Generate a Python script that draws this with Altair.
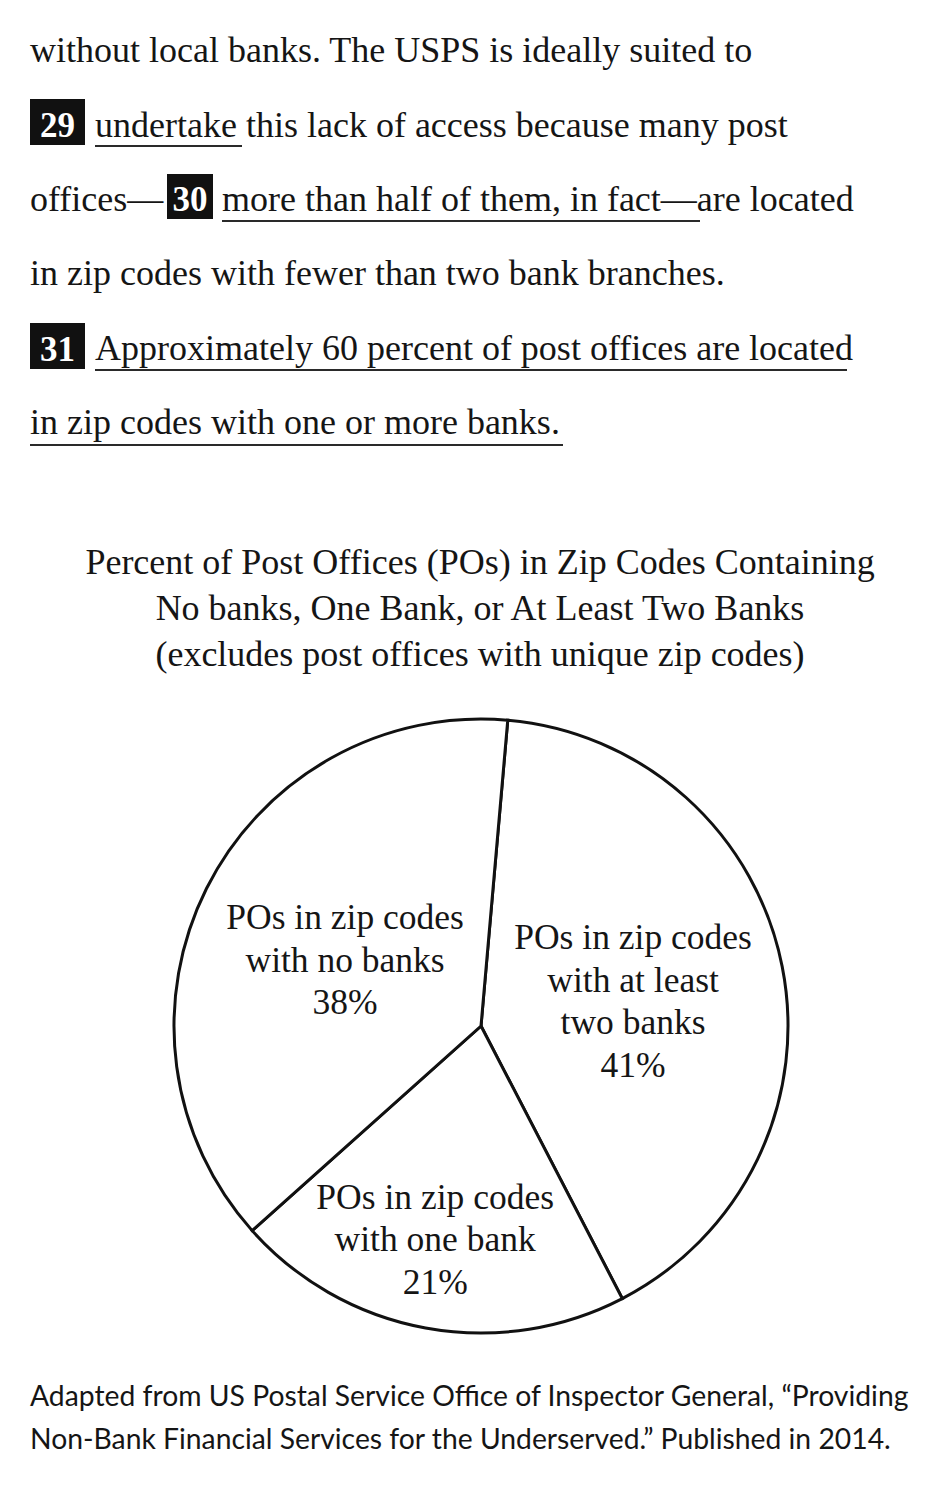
import math
import altair as alt
import pandas as pd

# ---------------- data ----------------
categories = [
    "with at least two banks",
    "with one bank",
    "with no banks",
]
percents = [41, 21, 38]
label_text = [
    "POs in zip codes\nwith at least\ntwo banks\n41%",
    "POs in zip codes\nwith one bank\n21%",
    "POs in zip codes\nwith no banks\n38%",
]
slice_order = [0, 1, 2]

title_lines = [
    "Percent of Post Offices (POs) in Zip Codes Containing",
    "No banks, One Bank, or At Least Two Banks",
    "(excludes post offices with unique zip codes)",
]
source_lines = [
    "Adapted from US Postal Service Office of Inspector General, \u201cProviding",
    "Non-Bank Financial Services for the Underserved.\u201d Published in 2014.",
]
passage = [
    "without local banks. The USPS is ideally suited to",
    "undertake this lack of access because many post",
    "offices\u2014",
    "more than half of them, in fact\u2014are located",
    "in zip codes with fewer than two bank branches.",
    "Approximately 60 percent of post offices are located",
    "in zip codes with one or more banks.",
]
question_numbers = ["29", "30", "31"]

# ---------------- styling ----------------
SERIF = "Liberation Serif"
SANS = "Lato"
INK = "#151515"
FS = 36

one = pd.DataFrame({"k": [0]})


def text_at(s, x, y, size=FS, font=SERIF, align="left", color=INK, weight="normal"):
    return alt.Chart(one).mark_text(
        text=s, font=font, fontSize=size, align=align, baseline="alphabetic",
        color=color, fontWeight=weight,
    ).encode(x=alt.value(x), y=alt.value(y))


def box(x1, x2, y1, y2):
    return alt.Chart(one).mark_rect(color="#111111").encode(
        x=alt.value(x1), x2=alt.value(x2), y=alt.value(y1), y2=alt.value(y2))


def underline(x1, x2, y):
    return alt.Chart(one).mark_rule(color="#2a2a2a", strokeWidth=2).encode(
        x=alt.value(x1), x2=alt.value(x2), y=alt.value(y))


layers = []
# passage lines
layers += [
    text_at(passage[0], 30, 62),
    box(30, 85, 99, 145),
    text_at(question_numbers[0], 57.5, 137, size=35, color="white", weight="bold", align="center"),
    text_at(passage[1], 95, 137),
    underline(95, 242, 146),
    text_at(passage[2], 30, 211),
    box(167, 213, 174, 219),
    text_at(question_numbers[1], 190, 211, size=35, color="white", weight="bold", align="center"),
    text_at(passage[3], 222, 211),
    underline(222, 700, 221),
    text_at(passage[4], 30, 285),
    box(30, 85, 323, 369),
    text_at(question_numbers[2], 57.5, 361, size=35, color="white", weight="bold", align="center"),
    text_at(passage[5], 95, 360),
    underline(95, 847, 370),
    text_at(passage[6], 30, 434),
    underline(30, 563, 445),
]
# title
for i, t in enumerate(title_lines):
    layers.append(text_at(t, 480, 574 + 46 * i, align="center"))
# source
for i, t in enumerate(source_lines):
    layers.append(text_at(t, 30, 1406 + 43 * i, size=28.3, font=SANS))

# ---------------- pie ----------------
pie_df = pd.DataFrame({
    "category": categories,
    "percent": percents,
    "label": label_text,
    "order": slice_order,
})
CX, CY, R = 481, 1026, 307
start = math.radians(5)
theta_scale = alt.Scale(domain=[0, 100], range=[start, start + 2 * math.pi])

pie = alt.Chart(pie_df).mark_arc(
    radius=R, fill="white", stroke="#111111", strokeWidth=3
).encode(
    theta=alt.Theta("percent:Q", stack=True, scale=theta_scale),
    order=alt.Order("order:Q"),
    x=alt.value(CX), y=alt.value(CY),
)
layers.insert(0, pie)

label_base = alt.Chart(pie_df).transform_window(
    cum="sum(percent)", sort=[alt.SortField("order")]
).transform_calculate(mid="datum.cum - datum.percent / 2")

LH = 42.7
# (category, label radius, offsets that centre the multi-line block)
for cat, rad, dx, dy in zip(categories, [155, 204, 152], [0, -9, 0], [-58, -29, -40]):
    layers.append(
        label_base.transform_filter(alt.datum.category == cat).mark_text(
            radius=rad, font=SERIF, fontSize=35.5, color=INK, align="center",
            baseline="middle", lineBreak="\n", lineHeight=LH, dx=dx, dy=dy,
        ).encode(
            theta=alt.Theta("mid:Q", stack=False, scale=theta_scale),
            text="label:N",
            x=alt.value(CX), y=alt.value(CY),
        )
    )

chart = alt.layer(*layers).properties(
    width=942, height=1486, padding=0, autosize=alt.AutoSizeParams(type="none"),
    background="white",
).configure_view(stroke=None)

chart.save("out.html", embed_options={"renderer": "svg", "actions": False})
